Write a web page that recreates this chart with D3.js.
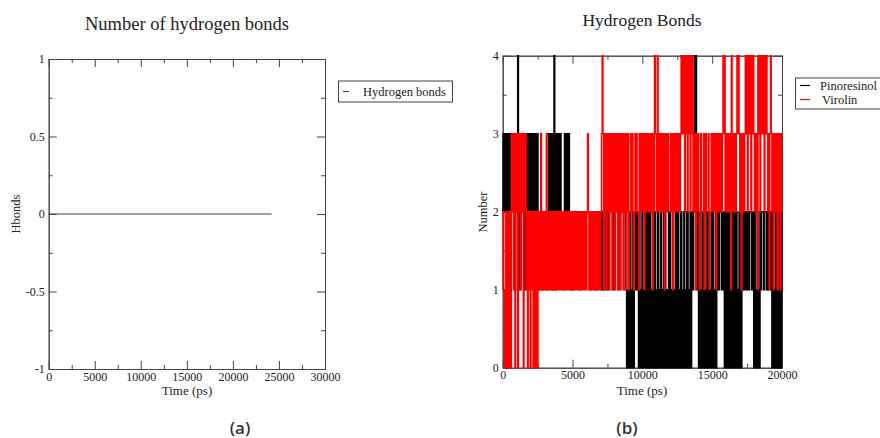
<!DOCTYPE html>
<html>
<head>
<meta charset="utf-8">
<script src="https://cdn.jsdelivr.net/npm/d3@7"></script>
<style>
  body { margin: 0; background: #fff; }
  svg { display: block; }
  .axis text { font-family: "Liberation Serif", "Times New Roman", serif; font-size: 12px; fill: #222; }
  .axis path, .axis line { stroke: #444; }
</style>
</head>
<body>
<div id="chart"></div>
<script>
// Panel (a): hydrogen bonds, flat at zero
const hbTime = [0, 24200];
const hbValue = [0, 0];
const aXTicks = [0, 5000, 10000, 15000, 20000, 25000, 30000];
const aXMinor = [2500, 7500, 12500, 17500, 22500, 27500];
const aYTicks = [-1, -0.5, 0, 0.5, 1];
const aYMinor = [-0.75, -0.25, 0.25, 0.75];

// Panel (b): one sample every 50 ps, 0..20000 ps (one row = 1000 ps)
const timePs = d3.range(0, 20001, 50);
const pinoresinol = [
  2,3,2,3,2,3,0,3,2,3,2,3,2,3,2,2,2,2,1,2,
  2,2,4,2,2,1,2,2,2,2,2,2,1,2,3,2,3,2,3,2,
  3,2,3,2,3,2,3,2,3,2,3,2,1,2,2,2,2,1,2,2,
  2,2,2,2,1,2,3,2,3,2,3,1,3,2,4,2,1,3,2,3,
  2,3,2,3,2,2,2,2,1,3,2,2,3,2,2,3,2,2,2,1,
  1,2,2,2,2,2,2,2,2,2,1,2,2,2,2,2,2,2,2,2,
  2,2,2,2,2,2,1,2,2,2,2,2,2,2,1,2,2,2,2,2,
  2,2,1,2,1,2,1,2,2,2,2,1,2,2,2,2,2,2,1,2,
  2,2,2,2,2,2,1,2,2,2,2,2,2,2,2,2,1,2,0,1,
  0,1,0,2,0,1,0,2,0,1,2,1,2,2,1,0,2,0,1,0,
  2,0,1,0,2,0,2,0,1,2,0,2,0,1,0,2,1,0,2,0,
  1,0,2,2,0,1,0,2,0,1,0,2,0,2,0,1,1,0,2,0,
  2,0,1,0,2,0,1,0,2,1,0,2,0,1,0,2,2,0,1,0,
  2,0,1,0,2,2,0,1,0,2,0,1,2,1,2,4,3,4,2,1,
  2,0,2,0,1,0,2,1,0,2,0,1,0,2,0,2,0,1,0,2,
  0,2,0,1,0,2,0,2,1,2,1,2,3,2,1,2,1,2,0,2,
  0,2,0,1,2,0,2,0,1,0,2,0,2,1,0,2,0,1,0,2,
  0,2,0,2,1,2,1,2,1,2,2,1,2,1,2,2,2,1,2,1,
  0,2,0,1,0,2,0,1,0,2,1,2,2,2,1,2,2,2,1,2,
  1,2,2,2,1,2,0,2,0,1,0,2,0,1,0,2,0,2,0,2,
  0
];
const virolin = [
  1,2,1,0,1,2,0,2,1,0,2,1,0,3,2,3,1,3,0,3,
  2,3,0,3,2,3,1,3,2,3,0,3,2,3,1,2,0,2,1,2,
  0,2,1,2,0,1,2,0,2,1,0,2,1,2,1,3,1,2,1,2,
  1,2,1,3,1,2,1,2,1,2,1,2,1,2,1,2,1,2,1,2,
  1,2,1,2,1,2,1,2,1,2,1,2,1,2,1,2,1,2,1,2,
  1,2,1,2,1,2,1,2,1,2,1,2,1,2,1,2,1,2,1,2,
  1,2,3,2,1,2,1,2,1,2,1,2,1,2,1,2,1,2,1,2,
  1,2,3,4,3,1,3,2,3,1,3,2,3,1,3,2,3,1,3,2,
  3,1,3,2,3,1,3,2,3,1,3,2,3,1,3,2,3,1,3,2,
  3,1,2,2,3,2,3,2,1,2,3,2,3,2,2,1,3,2,3,2,
  3,2,3,1,3,2,3,2,3,2,3,2,3,2,3,1,3,2,4,3,
  3,2,4,3,2,3,2,3,2,3,2,3,1,3,2,3,2,3,2,2,
  2,3,2,3,1,3,2,3,2,3,2,3,2,3,2,3,4,3,4,3,
  4,2,4,3,4,2,4,3,4,2,4,3,4,2,3,2,3,1,3,2,
  3,2,1,2,3,2,2,2,3,1,2,3,2,2,2,3,1,2,2,3,
  2,3,2,3,2,3,1,3,2,3,2,3,2,3,2,3,4,3,4,2,
  3,2,3,2,3,2,3,1,4,3,2,3,2,3,2,3,4,3,4,3,
  2,3,1,3,2,3,2,3,4,3,4,2,4,3,4,3,2,4,3,4,
  3,2,3,2,3,1,4,3,4,2,4,3,4,3,4,2,4,3,4,3,
  2,3,1,3,4,3,2,3,1,3,2,3,2,3,1,3,2,3,1,3,
  2
];
const bXTicks = [0, 5000, 10000, 15000, 20000];
const bXMinor = [2500, 7500, 12500, 17500];
const bYTicks = [0, 1, 2, 3, 4];
const bYMinor = [0.5, 1.5, 2.5, 3.5];

const width = 880, height = 438;
const svg = d3.select("#chart").append("svg")
  .attr("width", width).attr("height", height);

const serif = "'Liberation Serif', 'Times New Roman', serif";
const fmt = d => String(d);

// cadre amb ticks cap endins als quatre costats (estil xmgrace)
function frame(x, y, xt, xm, yt, ym) {
  const [x0, x1] = x.range();
  const [y0, y1] = y.range(); // y0 = bottom
  const g = svg.append("g");
  g.append("g").attr("class", "axis").attr("transform", `translate(0,${y0})`)
    .call(d3.axisBottom(x).tickValues(xt).tickSize(-8).tickSizeOuter(0).tickPadding(3).tickFormat(fmt));
  g.append("g").attr("class", "axis").attr("transform", `translate(0,${y0})`)
    .call(d3.axisBottom(x).tickValues(xm).tickSize(-4).tickSizeOuter(0).tickFormat(""));
  g.append("g").attr("class", "axis").attr("transform", `translate(0,${y1})`)
    .call(d3.axisTop(x).tickValues(xt).tickSize(-8).tickSizeOuter(0).tickFormat(""));
  g.append("g").attr("class", "axis").attr("transform", `translate(0,${y1})`)
    .call(d3.axisTop(x).tickValues(xm).tickSize(-4).tickSizeOuter(0).tickFormat(""));
  g.append("g").attr("class", "axis").attr("transform", `translate(${x0},0)`)
    .call(d3.axisLeft(y).tickValues(yt).tickSize(-8).tickSizeOuter(0).tickPadding(4).tickFormat(fmt));
  g.append("g").attr("class", "axis").attr("transform", `translate(${x0},0)`)
    .call(d3.axisLeft(y).tickValues(ym).tickSize(-4).tickSizeOuter(0).tickFormat(""));
  g.append("g").attr("class", "axis").attr("transform", `translate(${x1},0)`)
    .call(d3.axisRight(y).tickValues(yt).tickSize(-8).tickSizeOuter(0).tickFormat(""));
  g.append("g").attr("class", "axis").attr("transform", `translate(${x1},0)`)
    .call(d3.axisRight(y).tickValues(ym).tickSize(-4).tickSizeOuter(0).tickFormat(""));
  return g;
}

function label(txt, x, y, size, opts = {}) {
  const t = svg.append("text")
    .attr("x", x).attr("y", y)
    .attr("text-anchor", opts.anchor || "middle")
    .style("font-family", opts.family || serif)
    .style("font-size", size + "px")
    .style("font-weight", opts.weight || "normal")
    .style("fill", opts.fill || "#222")
    .text(txt);
  if (opts.rotate) t.attr("transform", `rotate(-90,${x},${y})`);
  return t;
}

// ---- Panel (a)
const xA = d3.scaleLinear().domain([0, 30000]).range([48.7, 325]);
const yA = d3.scaleLinear().domain([-1, 1]).range([369, 59]);
frame(xA, yA, aXTicks, aXMinor, aYTicks, aYMinor);

svg.append("path")
  .datum(hbTime.map((t, i) => [t, hbValue[i]]))
  .attr("fill", "none").attr("stroke", "#444").attr("stroke-width", 1)
  .attr("d", d3.line().x(d => xA(d[0])).y(d => yA(d[1])));

label("Number of hydrogen bonds", 187, 30, 18.5);
label("Time (ps)", 187, 395, 13);
label("Hbonds", 20, 214, 12.5, { rotate: true });

// llegenda (a)
svg.append("rect").attr("x", 338.5).attr("y", 81).attr("width", 114).attr("height", 21)
  .attr("fill", "none").attr("stroke", "#444");
svg.append("line").attr("x1", 343).attr("x2", 349).attr("y1", 91.5).attr("y2", 91.5)
  .attr("stroke", "#444");
label("Hydrogen bonds", 363, 95.5, 12.5, { anchor: "start" });

// ---- Panel (b)
const xB = d3.scaleLinear().domain([0, 20000]).range([502.7, 782]);
const yB = d3.scaleLinear().domain([0, 4]).range([367.7, 55.7]);
frame(xB, yB, bXTicks, bXMinor, bYTicks, bYMinor);

const lineB = d3.line().curve(d3.curveStep).x(d => xB(d[0])).y(d => yB(d[1]));
const seriesB = [
  { name: "Pinoresinol", color: "#000", values: pinoresinol },
  { name: "Virolin", color: "#ff0000", values: virolin }
];
seriesB.forEach(s => {
  svg.append("path")
    .datum(timePs.map((t, i) => [t, s.values[i]]))
    .attr("fill", "none").attr("stroke", s.color).attr("stroke-width", 1.5)
    .attr("d", lineB);
});

label("Hydrogen Bonds", 642, 26, 17.5);
label("Time (ps)", 642, 395, 13);
label("Number", 487, 212, 12.5, { rotate: true });

// llegenda (b)
svg.append("rect").attr("x", 795.5).attr("y", 78).attr("width", 100).attr("height", 31)
  .attr("fill", "none").attr("stroke", "#444");
seriesB.forEach((s, i) => {
  const yy = 85.5 + i * 14;
  svg.append("line").attr("x1", 800).attr("x2", 810).attr("y1", yy).attr("y2", yy)
    .attr("stroke", s.color).attr("stroke-width", 1.2);
  label(s.name, i === 0 ? 820 : 822, yy + 4, 12.5, { anchor: "start" });
});

// etiquetes dels panells
const sans = "'Open Sans', 'Noto Sans', sans-serif";
label("(a)", 240, 434, 17, { family: sans, weight: 600, fill: "#333" });
label("(b)", 627, 434, 17, { family: sans, weight: 600, fill: "#333" });
</script>
</body>
</html>
